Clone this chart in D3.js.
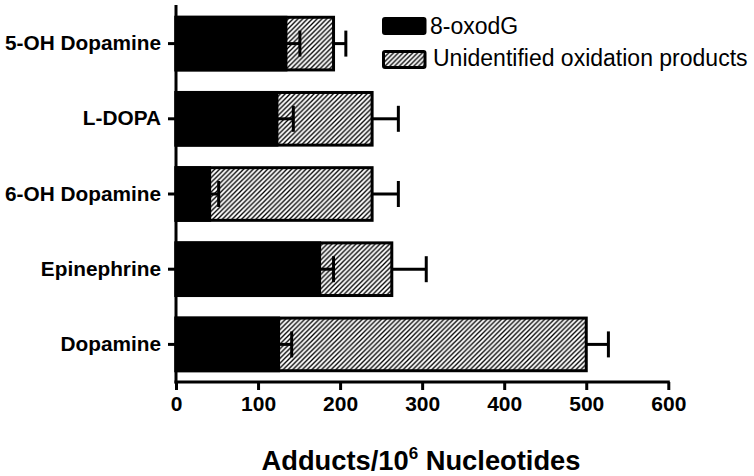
<!DOCTYPE html>
<html>
<head>
<meta charset="utf-8">
<script src="https://cdn.jsdelivr.net/npm/d3@7"></script>
<style>
  body { margin: 0; background: #fff; }
  svg { display: block; font-family: "Liberation Sans", Arial, sans-serif; }
</style>
</head>
<body>
<svg id="chart" width="754" height="476"></svg>
<script>
// ---- data ----
const categories = ["5-OH Dopamine", "L-DOPA", "6-OH Dopamine", "Epinephrine", "Dopamine"];
const oxodG      = [134, 123, 41, 175, 125];
const oxodGErr   = [151, 143, 52, 192, 141];   // upper end of error bar
const totalVals  = [192, 239, 239, 263, 500];  // 8-oxodG + unidentified
const totalErr   = [207, 271, 271, 305, 527];  // upper end of error bar
const xTicks     = [0, 100, 200, 300, 400, 500, 600];
const seriesNames = ["8-oxodG", "Unidentified oxidation products"];
const xTitle = "Adducts/10";
const xTitleSup = "6";
const xTitleRest = " Nucleotides";

const svg = d3.select("#chart");
const FONT = "'Liberation Sans', Arial, sans-serif";

const defs = svg.append("defs");
const pat = defs.append("pattern")
  .attr("id", "hatch").attr("patternUnits", "userSpaceOnUse")
  .attr("width", 4.8).attr("height", 4.8);
pat.append("rect").attr("width", 4.8).attr("height", 4.8).attr("fill", "#fff");
pat.append("path")
  .attr("d", "M-1.2,1.2 L1.2,-1.2 M0,4.8 L4.8,0 M3.6,6 L6,3.6")
  .attr("stroke", "#000").attr("stroke-width", 1.35);

const x = d3.scaleLinear().domain([0, 600]).range([176, 668.3]);
const y = d3.scaleBand().domain(categories).range([6, 382])
  .paddingInner(0.3).paddingOuter(0.15);

const data = categories.map((c, i) => ({
  c, oxo: oxodG[i], oxoE: oxodGErr[i], tot: totalVals[i], totE: totalErr[i]
}));

// total (hatched) bars
svg.append("g").selectAll("rect").data(data).join("rect")
  .attr("x", x(0))
  .attr("y", d => y(d.c))
  .attr("width", d => x(d.tot) - x(0))
  .attr("height", y.bandwidth())
  .attr("fill", "url(#hatch)")
  .attr("stroke", "#000").attr("stroke-width", 3);

// 8-oxodG black bars
svg.append("g").selectAll("rect").data(data).join("rect")
  .attr("x", x(0))
  .attr("y", d => y(d.c))
  .attr("width", d => x(d.oxo) - x(0))
  .attr("height", y.bandwidth())
  .attr("fill", "#000")
  .attr("stroke", "#000").attr("stroke-width", 3);

// error bars
const capH = 26;
function errBars(cls, from, to) {
  const g = svg.append("g").attr("class", cls);
  g.selectAll("line.h").data(data).join("line").attr("class", "h")
    .attr("x1", d => x(from(d))).attr("x2", d => x(to(d)))
    .attr("y1", d => y(d.c) + y.bandwidth() / 2)
    .attr("y2", d => y(d.c) + y.bandwidth() / 2)
    .attr("stroke", "#000").attr("stroke-width", 3);
  g.selectAll("line.c").data(data).join("line").attr("class", "c")
    .attr("x1", d => x(to(d))).attr("x2", d => x(to(d)))
    .attr("y1", d => y(d.c) + y.bandwidth() / 2 - capH / 2)
    .attr("y2", d => y(d.c) + y.bandwidth() / 2 + capH / 2)
    .attr("stroke", "#000").attr("stroke-width", 3);
}
errBars("errTot", d => d.tot, d => d.totE);
errBars("errOxo", d => d.oxo, d => d.oxoE);

// x axis
const xAxis = d3.axisBottom(x).tickValues(xTicks).tickSize(8).tickPadding(6)
  .tickSizeOuter(0);
const gx = svg.append("g").attr("transform", "translate(0,382)").call(xAxis)
  .attr("font-family", FONT).attr("font-size", 21).attr("font-weight", "bold");
gx.select(".domain").attr("stroke-width", 3).attr("d", `M${x(0) - 1.5},0H${x(600) + 1.5}`);
gx.selectAll(".tick line").attr("stroke-width", 3);
gx.selectAll(".tick text").attr("fill", "#000");

// y axis
const yAxis = d3.axisLeft(y).tickSize(8).tickPadding(7).tickSizeOuter(0);
const gy = svg.append("g").attr("transform", `translate(${x(0)},0)`).call(yAxis)
  .attr("font-family", FONT).attr("font-size", 20.8).attr("font-weight", "bold");
gy.select(".domain").attr("stroke-width", 3).attr("d", "M0,5V383.5");
gy.selectAll(".tick line").attr("stroke-width", 3);
gy.selectAll(".tick text").attr("fill", "#000");

// x title
const t = svg.append("text")
  .attr("x", 421).attr("y", 470).attr("text-anchor", "middle")
  .attr("font-size", 27.3).attr("font-weight", "bold").attr("fill", "#000");
t.append("tspan").text(xTitle);
t.append("tspan").attr("font-size", 17).attr("dy", -11).text(xTitleSup);
t.append("tspan").attr("dy", 11).text(xTitleRest);

// legend
const leg = svg.append("g");
const legItems = [
  { name: seriesNames[0], fill: "#000", y: 18.5, h: 15, tx: 430, ty: 33.5 },
  { name: seriesNames[1], fill: "url(#hatch)", y: 51.5, h: 16, tx: 433, ty: 66 }
];
leg.selectAll("rect").data(legItems).join("rect")
  .attr("x", 383.5).attr("y", d => d.y)
  .attr("width", 41.5).attr("height", d => d.h).attr("rx", 1.5)
  .attr("fill", d => d.fill)
  .attr("stroke", "#000").attr("stroke-width", 3);
leg.selectAll("text").data(legItems).join("text")
  .attr("x", d => d.tx)
  .attr("y", d => d.ty)
  .attr("font-size", 23).attr("fill", "#000")
  .text(d => d.name);
</script>
</body>
</html>
